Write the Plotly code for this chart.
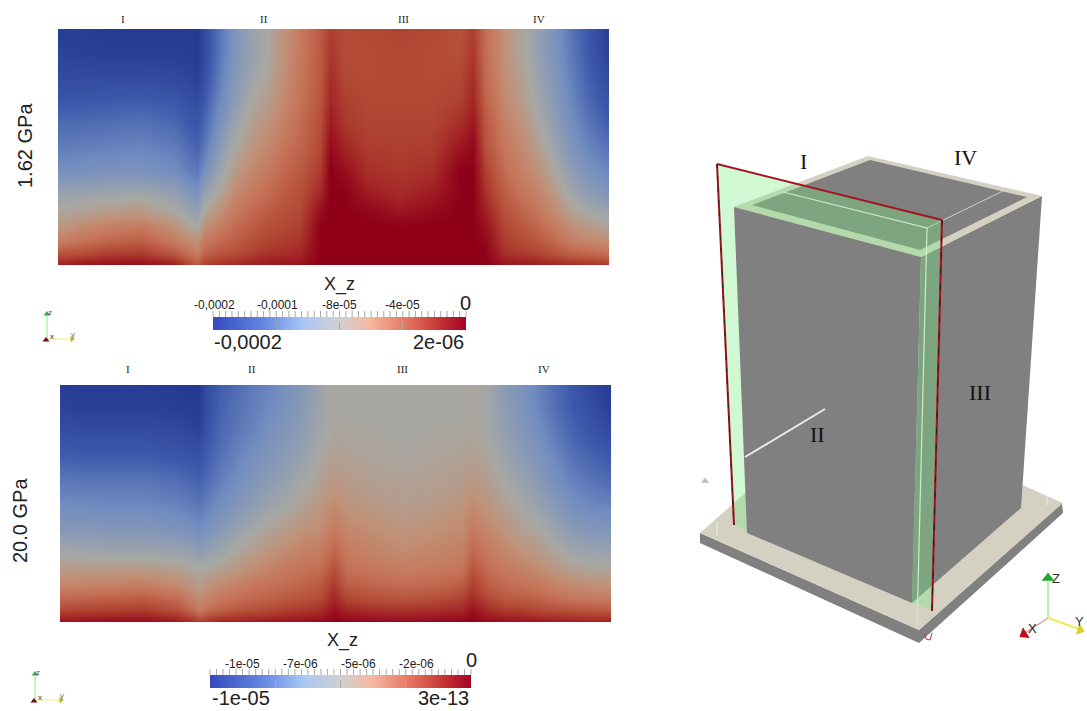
import numpy as np
import plotly.graph_objects as go

W, H = 1087, 711

# ---- field values, percent of the colour range, one list per column, top to bottom ----
ROWS = [0, .1, .2, .3, .4, .5, .6, .7, .78, .84, .9, .95, 1.0]
COLS_TOP = [0, .04, .09, .15, .21, .24, .253, .265, .29, .32, .35, .38, .41, .44, .475, .493,
            .52, .56, .62, .68, .73, .754, .775, .81, .84, .87, .90, .93, .96, 1.0]
FIELD_TOP = [
    [2, 5, 8, 13, 20, 25, 32, 45, 52, 58, 66, 78, 92],
    [2, 4, 8, 13, 20, 26, 33, 45, 54, 62, 70, 80, 95],
    [1, 3, 8, 14, 21, 27, 34, 47, 57, 66, 74, 84, 97],
    [1, 3, 8, 15, 22, 28, 34, 48, 58, 68, 76, 85, 97],
    [1, 3, 7, 13, 19, 25, 31, 43, 52, 60, 68, 77, 93],
    [1, 2, 5, 10, 14, 20, 26, 37, 46, 52, 62, 70, 82],
    [0, 1, 3, 8, 13, 17, 24, 34, 44, 50, 60, 66, 78],
    [8, 8, 10, 14, 19, 24, 32, 44, 52, 60, 68, 74, 85],
    [22, 22, 24, 28, 32, 38, 45, 52, 60, 66, 72, 78, 88],
    [35, 35, 37, 40, 45, 50, 56, 62, 68, 72, 76, 80, 90],
    [45, 44, 46, 50, 54, 58, 63, 68, 73, 76, 80, 84, 92],
    [50, 50, 52, 55, 59, 63, 68, 72, 77, 80, 83, 87, 94],
    [60, 60, 61, 63, 66, 70, 73, 77, 80, 82, 85, 88, 95],
    [68, 68, 69, 70, 72, 74, 77, 80, 82, 84, 87, 90, 96],
    [77, 77, 77, 78, 80, 82, 85, 90, 97, 100, 100, 100, 100],
    [84, 86, 88, 90, 93, 97, 100, 100, 100, 100, 100, 100, 100],
    [81, 81, 82, 84, 86, 90, 96, 100, 100, 100, 100, 100, 100],
    [82, 81, 81, 82, 83, 85, 88, 93, 99, 100, 100, 100, 100],
    [83, 82, 82, 82, 83, 84, 86, 89, 95, 100, 100, 100, 100],
    [82, 81, 81, 82, 83, 85, 88, 93, 98, 100, 100, 100, 100],
    [80, 80, 82, 84, 88, 94, 100, 100, 100, 100, 100, 100, 100],
    [84, 86, 88, 90, 94, 98, 100, 100, 100, 100, 100, 100, 100],
    [72, 72, 73, 75, 78, 80, 84, 88, 92, 96, 98, 100, 100],
    [60, 60, 61, 63, 66, 69, 72, 76, 80, 82, 85, 88, 95],
    [52, 52, 54, 56, 59, 63, 66, 70, 75, 78, 81, 85, 94],
    [44, 44, 46, 48, 51, 55, 60, 65, 70, 74, 78, 83, 93],
    [34, 35, 37, 39, 42, 46, 51, 57, 63, 68, 73, 79, 91],
    [24, 25, 27, 29, 32, 36, 42, 48, 55, 61, 67, 75, 89],
    [14, 15, 17, 20, 24, 28, 34, 42, 50, 57, 64, 73, 88],
    [3, 4, 7, 11, 16, 22, 28, 36, 46, 53, 61, 70, 86],
]
COLS_BOT = [0, .04, .09, .15, .21, .24, .253, .265, .29, .32, .35, .38, .41, .44, .47, .498,
            .52, .56, .62, .68, .73, .748, .78, .81, .84, .87, .90, .93, .96, 1.0]
FIELD_BOT = [
    [2, 5, 10, 16, 24, 30, 37, 48, 57, 63, 73, 82, 95],
    [2, 4, 9, 15, 23, 30, 37, 47, 57, 64, 74, 83, 96],
    [2, 4, 9, 15, 23, 29, 36, 46, 57, 65, 75, 84, 97],
    [2, 4, 9, 15, 23, 29, 36, 46, 57, 66, 76, 85, 97],
    [1, 3, 8, 13, 21, 27, 34, 45, 55, 62, 72, 80, 94],
    [0, 2, 6, 12, 18, 25, 32, 43, 52, 58, 65, 73, 89],
    [0, 2, 5, 11, 17, 23, 30, 41, 51, 55, 62, 68, 85],
    [9, 9, 12, 16, 20, 26, 33, 43, 52, 58, 64, 71, 88],
    [16, 17, 19, 22, 26, 31, 38, 46, 54, 62, 68, 75, 91],
    [20, 22, 24, 27, 31, 36, 43, 51, 58, 65, 71, 78, 92],
    [25, 26, 28, 32, 36, 41, 48, 55, 62, 68, 73, 80, 93],
    [28, 30, 33, 36, 40, 45, 52, 59, 65, 70, 75, 82, 94],
    [33, 34, 37, 40, 44, 49, 55, 62, 68, 72, 77, 84, 95],
    [38, 39, 41, 44, 48, 53, 59, 65, 70, 74, 79, 86, 96],
    [46, 46, 47, 50, 53, 57, 61, 67, 72, 76, 81, 88, 97],
    [51, 51, 52, 54, 57, 62, 67, 74, 80, 85, 90, 95, 100],
    [50, 50, 51, 53, 56, 59, 63, 67, 71, 76, 82, 90, 99],
    [50, 50, 51, 52, 54, 57, 61, 65, 69, 74, 80, 88, 98],
    [50, 50, 50, 51, 53, 55, 58, 62, 67, 72, 78, 87, 98],
    [50, 50, 51, 52, 54, 56, 60, 64, 68, 73, 80, 88, 98],
    [50, 50, 51, 53, 55, 59, 62, 66, 70, 76, 83, 90, 99],
    [51, 51, 52, 54, 57, 62, 67, 73, 79, 84, 89, 95, 100],
    [47, 47, 48, 51, 54, 58, 62, 67, 71, 75, 81, 88, 97],
    [39, 40, 42, 45, 49, 53, 58, 63, 68, 72, 77, 85, 96],
    [34, 35, 37, 40, 44, 48, 53, 59, 65, 70, 76, 84, 95],
    [27, 28, 31, 35, 39, 44, 50, 56, 62, 68, 74, 82, 94],
    [20, 21, 24, 28, 32, 38, 44, 51, 58, 64, 71, 80, 93],
    [14, 15, 18, 22, 27, 32, 39, 47, 55, 62, 69, 79, 93],
    [8, 10, 13, 18, 23, 29, 36, 45, 53, 60, 68, 78, 92],
    [1, 3, 8, 14, 20, 27, 35, 44, 52, 59, 67, 77, 91],
]

# ---- colour-bar labels ----
TOP_RANGE = (-0.0002, 2e-06)
BOT_RANGE = (-1e-05, 3e-13)
TOP_TICKS = ["-0,0002", "-0,0001", "-8e-05", "-4e-05"]
BOT_TICKS = ["-1e-05", "-7e-06", "-5e-06", "-2e-06"]
TOP_ENDS = ("-0,0002", "2e-06")
BOT_ENDS = ("-1e-05", "3e-13")
SECTIONS = ["I", "II", "III", "IV"]

# ---- schematic outlines, read in picture pixels ----
PLATE_SIDE_X = [700, 919, 1062, 1063, 919, 700]
PLATE_SIDE_Y = [533, 630, 503, 513, 643, 543]
PLATE_TOP_X = [700, 844, 1063, 919]
PLATE_TOP_Y = [533, 406, 503, 630]
RIGHT_FACE_X = [921, 1042, 1021, 912]
RIGHT_FACE_Y = [257, 196, 508, 603]
RIM_X = [734, 868, 1042, 921]
RIM_Y = [207, 156, 196, 257]
INNER_X = [752, 870, 1027, 920]
INNER_Y = [205, 160, 197, 250]
PLANE_X = [717, 942, 932, 734]
PLANE_Y = [164, 220, 611, 525]
FRONT_FACE_X = [734, 921, 912, 747]
FRONT_FACE_Y = [207, 257, 603, 533]

HEAT_SCALE = [[0, "rgb(36,56,145)"], [.15, "rgb(62,90,172)"], [.3, "rgb(112,140,192)"],
              [.42, "rgb(145,158,178)"], [.5, "rgb(168,168,163)"], [.6, "rgb(192,145,120)"],
              [.7, "rgb(198,115,88)"], [.82, "rgb(178,72,52)"], [.92, "rgb(160,30,35)"],
              [1, "rgb(143,0,24)"]]
BAR_SCALE = [[0, "rgb(52,74,190)"], [.2, "rgb(100,135,225)"], [.36, "rgb(170,200,245)"],
             [.5, "rgb(208,208,208)"], [.62, "rgb(245,185,160)"], [.78, "rgb(228,110,90)"],
             [.9, "rgb(195,50,50)"], [1, "rgb(165,0,38)"]]

SANS = "Liberation Sans, sans-serif"
SERIF = "Liberation Serif, serif"
PLANE_FILL = "rgba(120,235,130,0.35)"
GRAY = "rgb(128,128,128)"
BEIGE = "rgb(212,209,195)"
TICK = "rgb(170,170,170)"

fig = go.Figure()


def poly(xs, ys, color):
    fig.add_trace(go.Scatter(x=xs, y=ys, mode="lines", fill="toself", fillcolor=color,
                             line=dict(width=0), hoverinfo="skip", showlegend=False))


def seg(xs, ys, color, width=1, dash=None):
    fig.add_trace(go.Scatter(x=xs, y=ys, mode="lines", hoverinfo="skip", showlegend=False,
                             line=dict(color=color, width=width, dash=dash)))


def tip(x, y, color, angle, size):
    fig.add_trace(go.Scatter(x=[x], y=[y], mode="markers", hoverinfo="skip", showlegend=False,
                             marker=dict(symbol="triangle-up", color=color, size=size, angle=angle,
                                         line=dict(width=0))))


def txt(x, y, s, size, font=SANS, color="#222", angle=0, xanchor="center"):
    fig.add_annotation(x=x, y=y, xref="x", yref="y", text=s, showarrow=False, textangle=angle,
                       xanchor=xanchor, yanchor="middle",
                       font=dict(family=font, size=size, color=color))


# schematic
poly(PLATE_SIDE_X, PLATE_SIDE_Y, GRAY)
poly(PLATE_TOP_X, PLATE_TOP_Y, BEIGE)
poly(RIGHT_FACE_X, RIGHT_FACE_Y, GRAY)
poly(RIM_X, RIM_Y, BEIGE)
poly(INNER_X, INNER_Y, GRAY)
seg([927, 1005], [228, 190], "rgb(205,205,215)", 1)
poly(PLANE_X, PLANE_Y, PLANE_FILL)
poly(FRONT_FACE_X, FRONT_FACE_Y, GRAY)
seg([783, 927, 917], [192, 228, 627], "rgb(205,235,205)", 1.2)
seg([745, 825], [457, 409], "rgb(235,235,235)", 2)
seg([717, 717], [522, 535], "rgb(240,240,235)", 1)
seg([1047, 1047], [497, 505], "rgb(240,240,235)", 1)
seg([717, 942], [164, 220], "rgb(165,20,35)", 2)
seg([717, 734], [164, 525], "rgb(150,20,30)", 2)
seg([717, 734], [164, 525], "rgb(50,30,30)", 1, "4px,8px")
seg([942, 932], [220, 611], "rgb(160,15,30)", 2)
seg([942, 932], [220, 611], "rgb(50,20,20)", 1, "6px,10px")
seg([925, 926, 930, 932], [634, 639, 640, 633], "rgb(210,40,40)", 1)
tip(705, 481, "rgb(190,190,190)", 0, 7)

# orientation widgets
for ox, oy, zy, yx, s in [(47, 339, 313, 72, 6), (35, 700, 673, 61, 6)]:
    seg([ox, ox], [oy, zy], "rgb(140,235,140)", 1)
    seg([ox, yx], [oy, oy], "rgb(240,235,120)", 1)
    tip(ox, zy + 1, "rgb(60,170,70)", 0, s)
    tip(yx, oy, "rgb(190,190,50)", 90, s)
    tip(ox - 1, oy + 1, "rgb(110,10,20)", 0, s)
    txt(ox + 3, zy - 1, "z", 8, color="#555")
    txt(ox + 5, oy - 3, "x", 8, color="#333")
    txt(yx + 1, oy - 5, "y", 8, color="#777")
seg([1048, 1048], [618, 578], "rgb(140,235,140)", 1.3)
seg([1048, 1025], [618, 633], "rgb(230,150,150)", 1.3)
seg([1048, 1082], [618, 630], "rgb(240,235,90)", 2)
tip(1048, 578, "rgb(30,170,50)", 0, 11)
tip(1024, 634, "rgb(190,15,25)", 238, 11)
tip(1080, 630, "rgb(220,205,40)", 108, 10)
txt(1056, 578, "Z", 13, color="#333")
txt(1032, 628, "X", 13, color="#222")
txt(1079, 621, "Y", 13, color="#333")

# field panels
for cols, field, xa, ya in [(COLS_TOP, FIELD_TOP, "x2", "y2"), (COLS_BOT, FIELD_BOT, "x3", "y3")]:
    fig.add_trace(go.Heatmap(x=cols, y=ROWS, z=np.array(field, dtype=float).T, xaxis=xa, yaxis=ya,
                             zmin=0, zmax=100, zsmooth="best", colorscale=HEAT_SCALE,
                             showscale=False, hoverinfo="skip"))

BAR_SHIFT = 8  # plotly lifts a horizontal bar by this much above its requested anchor


def colorbar(rng, x0, x1, y0, y1):
    majors = np.linspace(rng[0], rng[1], 5)
    return go.Scatter(
        x=[None], y=[None], mode="markers", showlegend=False, hoverinfo="skip",
        marker=dict(color=[rng[0]], cmin=rng[0], cmax=rng[1], colorscale=BAR_SCALE, showscale=True,
                    colorbar=dict(orientation="h", x=(x0 + x1) / 2 / W, xanchor="center",
                                  y=1 - (y1 + BAR_SHIFT) / H, yanchor="bottom", yref="paper",
                                  len=x1 - x0, lenmode="pixels", thickness=y1 - y0,
                                  thicknessmode="pixels", xpad=0, ypad=0, outlinewidth=0,
                                  ticks="inside", ticklen=8, tickwidth=1, tickcolor=TICK,
                                  showticklabels=False, tickmode="array",
                                  tickvals=list(majors))))


def bar_ruler(x0, x1, ytop, ybot):
    """Fine ruler above a colour bar: 40 divisions between its two ends."""
    xs, ys = [], []
    for v in np.linspace(x0, x1, 41):
        xs += [v, v, None]
        ys += [ytop, ybot, None]
    seg(xs, ys, TICK, 1)


fig.add_trace(colorbar(TOP_RANGE, 213, 466, 317, 330))
fig.add_trace(colorbar(BOT_RANGE, 210, 471, 675, 688))
bar_ruler(213, 466, 311, 317)
bar_ruler(210, 471, 669, 675)

# colour-bar text
for px, s in zip([214, 277, 339, 402], TOP_TICKS):
    txt(px, 305, s, 12)
txt(465, 303, "0", 20)
txt(212, 342, TOP_ENDS[0], 20, xanchor="left")
txt(466, 342, TOP_ENDS[1], 20, xanchor="right")
txt(339, 284, "X_z", 18)
for px, s in zip([242, 300, 358, 416], BOT_TICKS):
    txt(px, 664, s, 12)
txt(471, 660, "0", 20)
txt(210, 698, BOT_ENDS[0], 20, xanchor="left")
txt(471, 698, BOT_ENDS[1], 20, xanchor="right")
txt(342, 640, "X_z", 18)

# section labels and panel titles
for px, py, s in zip([123, 264, 403, 539], [19] * 4, SECTIONS):
    txt(px, py, s, 11, SERIF)
for px, py, s in zip([128, 252, 402, 544], [369] * 4, SECTIONS):
    txt(px, py, s, 11, SERIF)
for px, py, s in zip([803, 817, 980, 965], [161, 434, 392, 157], SECTIONS):
    txt(px, py, s, 22, SERIF, color="#111")
txt(25, 146, "1.62 GPa", 20, angle=-90)
txt(20, 521, "20.0 GPa", 20, angle=-90)

hidden = dict(visible=False, fixedrange=True)
fig.update_layout(
    width=W, height=H, margin=dict(l=0, r=0, t=0, b=0, autoexpand=False),
    paper_bgcolor="white", plot_bgcolor="rgba(0,0,0,0)", showlegend=False,
    xaxis=dict(range=[0, W], domain=[0, 1], **hidden),
    yaxis=dict(range=[H, 0], domain=[0, 1], **hidden),
    xaxis2=dict(range=[0, 1], domain=[58 / W, 609 / W], anchor="y2", **hidden),
    yaxis2=dict(range=[1, 0], domain=[1 - 265 / H, 1 - 29 / H], anchor="x2", **hidden),
    xaxis3=dict(range=[0, 1], domain=[60 / W, 611 / W], anchor="y3", **hidden),
    yaxis3=dict(range=[1, 0], domain=[1 - 622 / H, 1 - 385 / H], anchor="x3", **hidden),
)
fig.write_html("out.html", config={"displayModeBar": False},
               post_script="document.body.style.margin='0';document.documentElement.style.overflow='hidden';")
